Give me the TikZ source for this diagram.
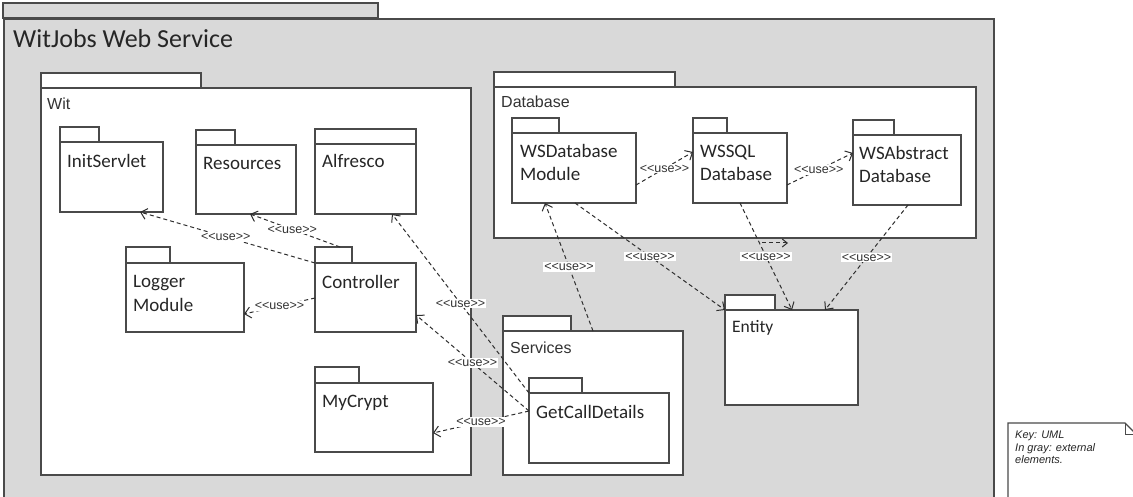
\documentclass[tikz,border=0pt]{standalone}
\usepackage{fontspec}
\setmainfont{Carlito}
\newfontfamily\arialf{Liberation Sans}
\usetikzlibrary{arrows.meta}

\definecolor{extgray}{HTML}{D9D9D9}
\definecolor{edgegray}{HTML}{4A4A4A}
\definecolor{depgray}{HTML}{2E2E2E}

\tikzset{
  pkgbody/.style={draw=edgegray, line width=1.4pt, fill=white, anchor=north west,
                  inner sep=0pt, outer sep=0pt},
  pkgtab/.style={draw=edgegray, line width=1.4pt, fill=white},
  pkgname/.style={anchor=base west, inner sep=0pt, text=black!85,
                  font=\fontsize{19}{23.5}\selectfont, align=left},
  grpname/.style={anchor=base west, inner sep=0pt, text=black!80,
                  font=\arialf\fontsize{16}{19}\selectfont},
  usedep/.style={draw=depgray, line width=1pt, dash pattern=on 4pt off 3pt,
                 -{Straight Barb[length=6pt,width=11pt]}},
  uselbl/.style={fill=white, inner sep=1.2pt, text=black!80,
                 font=\arialf\fontsize{12.5}{13}\selectfont}
}

% package: name, x, top of body, width, height, tab width, tab height
\newcommand\umlpkg[7]{%
  \draw[pkgtab] (#2,{#3-#7}) rectangle ({#2+#6},#3);
  \node[pkgbody, minimum width=#4pt, minimum height=#5pt] (#1) at (#2,#3) {};
}

\begin{document}
\begin{tikzpicture}[x=1pt,y=-1pt]
\useasboundingbox (0,0) rectangle (1133,497);
\fill[white] (0,0) rectangle (1133,497);

% outer package (external element)
\draw[draw=edgegray, line width=1.8pt, fill=extgray] (3,3) rectangle (378,18);
\node[draw=edgegray, line width=1.8pt, fill=extgray, anchor=north west,
      minimum width=990pt, minimum height=500pt, inner sep=0pt] (ws) at (3,18) {};
\node[anchor=base west, inner sep=0pt, text=black!85,
      font=\fontsize{26}{30}\selectfont] (wstitle) at (13,48) {WitJobs Web Service};

% container packages
\umlpkg{wit}{41}{88}{430}{387}{160}{15}
\node[grpname] (witname) at (47,110) {Wit};
\umlpkg{database}{494}{87}{482}{151}{181}{15}
\node[grpname] (dbname) at (501,108) {Database};
\umlpkg{services}{503}{331}{180}{144}{68}{15}
\node[grpname] (srvname) at (510,353) {Services};
\umlpkg{entity}{725}{310}{133}{95}{50}{15}
\node[pkgname, font=\fontsize{17.5}{20}\selectfont] (entname) at (732,332) {Entity};

% packages inside Wit
\umlpkg{initservlet}{60}{142}{103}{70}{39}{15}
\node[pkgname] (initname) at (67,168) {InitServlet};
\umlpkg{resources}{196}{145}{100}{69}{39}{15}
\node[pkgname] (resname) at (203,170) {Resources};
\umlpkg{alfresco}{315}{144}{101}{70}{101}{15}
\node[pkgname] (alfname) at (322,168) {Alfresco};
\umlpkg{logger}{126}{263}{118}{69}{44}{16}
\node[pkgname] (logname) at (133,311) {Logger\\Module};
\umlpkg{controller}{315}{263}{101}{69}{37}{16}
\node[pkgname] (ctrlname) at (322,288) {Controller};
\umlpkg{mycrypt}{315}{383}{118}{69}{44}{16}
\node[pkgname] (cryptname) at (322,407) {MyCrypt};

% packages inside Database
\umlpkg{wsdb}{512}{133}{124}{70}{47}{15}
\node[pkgname] (wsdbname) at (520,181) {WSDatabase\\Module};
\umlpkg{wssql}{693}{133}{94}{70}{34}{15}
\node[pkgname] (wssqlname) at (700,181) {WSSQL\\Database};
\umlpkg{wsabs}{853}{135}{108}{70}{41}{15}
\node[pkgname] (wsabsname) at (859,183) {WSAbstract\\Database};

% package inside Services
\umlpkg{gcd}{529}{393}{140}{70}{53}{15}
\node[pkgname] (gcdname) at (536,418) {GetCallDetails};

% <<use>> dependencies
\draw[usedep] (controller.north west) -- node[uselbl, pos=0.51] (u1) {<<use>>}
  ([xshift=80pt]initservlet.south west);
\draw[usedep] ([xshift=25pt,yshift=16pt]controller.north west) -- node[uselbl, pos=0.53] (u2) {<<use>>}
  ([xshift=54pt]resources.south west);
\draw[usedep] ([yshift=-35pt]controller.north west) -- node[uselbl, pos=0.5] (u3) {<<use>>}
  ([yshift=18pt]logger.south east);
\draw[usedep] (gcd.north west) -- node[uselbl, pos=0.5] (u4) {<<use>>}
  ([xshift=77pt]alfresco.south west);
\draw[usedep] ([yshift=-18pt]gcd.north west) -- node[uselbl, pos=0.5] (u5) {<<use>>}
  ([yshift=17pt]controller.south east);
\draw[usedep] ([yshift=-18pt]gcd.north west) -- node[uselbl, pos=0.5] (u6) {<<use>>}
  ([yshift=19pt]mycrypt.south east);
\draw[usedep] ([xshift=90pt]services.north west) -- node[uselbl, pos=0.5] (u7) {<<use>>}
  ([xshift=33pt]wsdb.south west);
\draw[usedep] ([xshift=63pt]wsdb.south west) -- node[uselbl, pos=0.5] (u8) {<<use>>}
  (entity.north west);
\draw[usedep] ([xshift=47pt]wssql.south west) -- node[uselbl, pos=0.5] (u9) {<<use>>}
  ([xshift=67pt]entity.north west);
\draw[usedep] ([xshift=55pt]wsabs.south west) -- node[uselbl, pos=0.5] (u10) {<<use>>}
  ([xshift=100pt]entity.north west);
\draw[usedep] ([yshift=18pt]wsdb.south east) -- node[uselbl, pos=0.5] (u11) {<<use>>}
  ([yshift=-19pt]wssql.north west);
\draw[usedep] ([yshift=18pt]wssql.south east) -- node[uselbl, pos=0.48] (u12) {<<use>>}
  ([yshift=-18pt]wsabs.north west);

% short stray dependency stub below Database
\coordinate (stubA) at (762,243);
\coordinate (stubB) at (788,243);
\draw[usedep, -{Straight Barb[length=5pt,width=8pt]}] (stubA) -- (stubB);

% key note
\draw[draw=edgegray, line width=1.2pt, fill=white]
  (1008,505) -- (1008,423) -- (1125,423) -- (1136,434) -- (1136,505);
\draw[draw=edgegray, line width=1pt] (1125,423) -- (1125,434) -- (1136,434);
\node[anchor=north west, inner sep=0pt, align=left, text=black!85,
      font=\arialf\itshape\fontsize{11}{12.5}\selectfont] (key) at (1015,431)
  {Key: UML\\In gray: external\\elements.};
\end{tikzpicture}
\end{document}
